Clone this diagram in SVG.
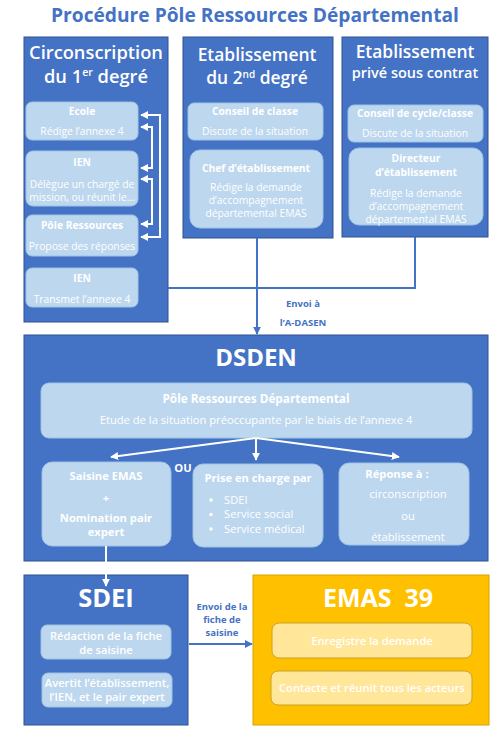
<svg xmlns="http://www.w3.org/2000/svg" width="504" height="739" viewBox="0 0 504 739">
<defs>
<style>
text{font-family:"Open Sans","DejaVu Sans",sans-serif;text-anchor:middle;}
.blue{fill:#4472C4;stroke:#2F528F;stroke-width:1;}
.inner{fill:#BDD7EE;stroke:#9DC3E6;stroke-width:1;}
.yel{fill:#FFC000;stroke:#D9A300;stroke-width:1;}
.yin{fill:#FFE699;stroke:#C9A227;stroke-width:1;}
.h1{fill:#fff;font-weight:600;font-size:18.3px;}
.h1e{fill:#fff;font-weight:600;font-size:17.4px;}
.h2{fill:#fff;font-weight:700;font-size:24px;}
.b{fill:#fff;font-weight:700;font-size:10.3px;}
.t{fill:#fff;font-size:10.3px;}
.m .b,.m .t{font-size:11.2px;}
.lbl{fill:#4472C4;font-weight:700;font-size:9.5px;}
.wl{fill:none;stroke:#fff;stroke-width:2;}
.bl{fill:none;stroke:#4472C4;stroke-width:2;}
</style>
<marker id="aw" viewBox="0 0 10 10" refX="9" refY="5" markerWidth="4" markerHeight="4" orient="auto-start-reverse"><path d="M0,0 L10,5 L0,10 z" fill="#fff"/></marker>
<marker id="ab" viewBox="0 0 10 10" refX="9" refY="5" markerWidth="4" markerHeight="4" orient="auto"><path d="M0,0 L10,5 L0,10 z" fill="#4472C4"/></marker>
</defs>
<rect width="504" height="739" fill="#fff"/>
<text x="255" y="22" style="fill:#4472C4;font-weight:700;font-size:19.2px;">Procédure Pôle Ressources Départemental</text>

<g id="circonscription">
<rect class="blue" x="24" y="37" width="144" height="285"/>
<text class="h1" x="96" y="59">Circonscription</text>
<text class="h1" x="96" y="83">du 1<tspan font-size="10.5" dy="-7">er</tspan><tspan dy="7"> degré</tspan></text>
<g id="ecole"><rect class="inner" x="26" y="102" width="112" height="38" rx="6"/>
<text class="b" x="82" y="115">Ecole</text><text class="t" x="82" y="135">Rédige l’annexe 4</text></g>
<g id="ien1"><rect class="inner" x="26" y="151" width="112" height="55" rx="7"/>
<text class="b" x="82" y="166">IEN</text><text class="t" x="82" y="188">Délègue un chargé de</text><text class="t" x="82" y="201">mission, ou réunit le…</text></g>
<g id="pole"><rect class="inner" x="26" y="215" width="112" height="41" rx="6"/>
<text class="b" x="82" y="229">Pôle Ressources</text><text class="t" x="82" y="250">Propose des réponses</text></g>
<g id="ien2"><rect class="inner" x="26" y="268" width="112" height="39" rx="6"/>
<text class="b" x="82" y="282">IEN</text><text class="t" x="82" y="303">Transmet l’annexe 4</text></g>
</g>

<g id="etab2">
<rect class="blue" x="183" y="37" width="150" height="201"/>
<text class="h1e" x="257" y="61">Etablissement</text>
<text class="h1e" x="257" y="84">du 2<tspan font-size="10" dy="-6.5">nd</tspan><tspan dy="6.5"> degré</tspan></text>
<rect class="inner" x="188" y="103" width="135" height="37" rx="6"/>
<text class="b" x="255" y="115">Conseil de classe</text><text class="t" x="255" y="135">Discute de la situation</text>
<rect class="inner" x="190" y="150" width="133" height="78" rx="10"/>
<text class="b" x="256" y="172">Chef d’établissement</text>
<text class="t" x="256" y="191">Rédige la demande</text><text class="t" x="256" y="204">d’accompagnement</text><text class="t" x="256" y="217">départemental EMAS</text>
</g>

<g id="etabprive">
<rect class="blue" x="342" y="37" width="146" height="200"/>
<text class="h1e" x="415" y="58">Etablissement</text>
<text class="h1e" x="415" y="78" style="font-size:14.5px">privé sous contrat</text>
<rect class="inner" x="348" y="105" width="135" height="37" rx="6"/>
<text class="b" x="415" y="117">Conseil de cycle/classe</text><text class="t" x="415" y="137">Discute de la situation</text>
<rect class="inner" x="349" y="148" width="134" height="77" rx="10"/>
<text class="b" x="416" y="162">Directeur</text><text class="b" x="416" y="176">d’établissement</text>
<text class="t" x="416" y="197">Rédige la demande</text><text class="t" x="416" y="210">d’accompagnement</text><text class="t" x="416" y="223">départemental EMAS</text>
</g>

<g id="dsden" class="m">
<rect class="blue" x="24" y="335" width="464" height="226"/>
<text class="h2" x="256" y="366">DSDEN</text>
<rect class="inner" x="41" y="383" width="431" height="55" rx="8"/>
<text class="b" x="256" y="403" style="font-size:11.8px">Pôle Ressources Départemental</text>
<text class="t" x="256" y="424">Etude de la situation préoccupante par le biais de l’annexe 4</text>
<g id="saisine"><rect class="inner" x="42" y="462" width="129" height="84" rx="10"/>
<text class="b" x="106" y="480">Saisine EMAS</text><text class="b" x="106" y="502">+</text>
<text class="b" x="106" y="522">Nomination pair</text><text class="b" x="106" y="536">expert</text></g>
<text class="b" x="183" y="472">OU</text>
<g id="prise"><rect class="inner" x="193" y="464" width="130" height="83" rx="10"/>
<text class="b" x="258" y="482">Prise en charge par</text>
<circle cx="211" cy="500" r="1.7" fill="#fff"/><circle cx="211" cy="514.5" r="1.7" fill="#fff"/><circle cx="211" cy="529" r="1.7" fill="#fff"/>
<text class="t" x="224" y="504" style="text-anchor:start">SDEI</text>
<text class="t" x="224" y="518" style="text-anchor:start">Service social</text>
<text class="t" x="224" y="533" style="text-anchor:start">Service médical</text></g>
<g id="reponse"><rect class="inner" x="339" y="463" width="130" height="82" rx="10"/>
<text class="b" x="397" y="478">Réponse à :</text>
<text class="t" x="408" y="498">circonscription</text><text class="t" x="408" y="520">ou</text><text class="t" x="408" y="541">établissement</text></g>
</g>

<g id="sdei" class="m">
<rect class="blue" x="24" y="575" width="164" height="150"/>
<text class="h2" x="106" y="607" style="font-size:25.5px">SDEI</text>
<rect class="inner" x="41" y="625" width="130" height="34" rx="6"/>
<text class="b" x="106" y="640" style="font-weight:600">Rédaction de la fiche</text><text class="b" x="106" y="654" style="font-weight:600">de saisine</text>
<rect class="inner" x="42" y="673" width="130" height="34" rx="6"/>
<text class="b" x="107" y="687" style="font-weight:600">Avertit l’établissement,</text><text class="b" x="107" y="701" style="font-weight:600">l’IEN, et le pair expert</text>
</g>

<g id="emas" class="m">
<rect class="yel" x="253" y="575" width="236" height="150"/>
<text class="h2" x="378" y="607" style="font-size:25px" xml:space="preserve">EMAS  39</text>
<rect class="yin" x="272" y="623" width="200" height="35" rx="7"/>
<text class="b" x="372" y="645" style="font-weight:600">Enregistre la demande</text>
<rect class="yin" x="271" y="671" width="201" height="34" rx="7"/>
<text class="b" x="372" y="692" style="font-weight:600">Contacte et réunit tous les acteurs</text>
</g>

<g id="connectors">
<path class="wl" d="M141,115 H160 V237 H141" marker-start="url(#aw)" marker-end="url(#aw)"/>
<path class="wl" d="M141,127 H152 V168 H141" marker-start="url(#aw)" marker-end="url(#aw)"/>
<path class="wl" d="M141,179 H152 V224 H141" marker-start="url(#aw)" marker-end="url(#aw)"/>
<path class="bl" d="M415,237 V288 H168"/>
<path class="bl" d="M257,238 V334" marker-end="url(#ab)"/>
<text class="lbl" x="303" y="307">Envoi à</text>
<text class="lbl" x="303" y="326">l’A-DASEN</text>
<path class="wl" d="M256,438 L111,457" marker-end="url(#aw)"/>
<path class="wl" d="M256,438 V460" marker-end="url(#aw)"/>
<path class="wl" d="M256,438 L399,457" marker-end="url(#aw)"/>
<path class="wl" d="M106,546 V586" marker-end="url(#aw)"/>
<path class="bl" d="M189,644 H252" marker-end="url(#ab)"/>
<text class="lbl" x="222" y="610">Envoi de la</text>
<text class="lbl" x="222" y="623">fiche de</text>
<text class="lbl" x="222" y="636">saisine</text>
</g>
</svg>
